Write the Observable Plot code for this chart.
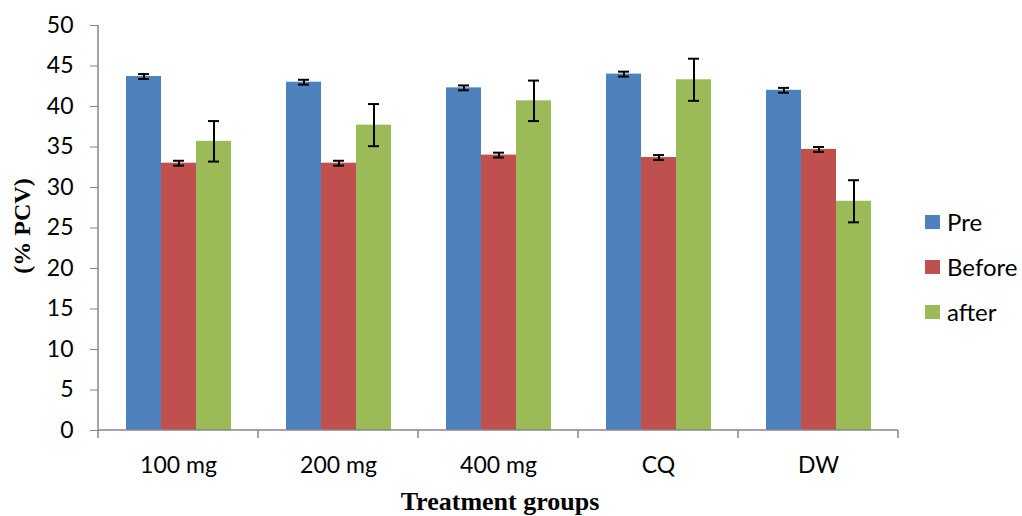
<!DOCTYPE html>
<html>
<head>
<meta charset="utf-8">
<script src="https://cdn.jsdelivr.net/npm/d3@7"></script>
<script src="https://cdn.jsdelivr.net/npm/@observablehq/plot@0.6"></script>
<style>
  html, body { margin: 0; padding: 0; background: #fff; }
  #wrap { position: relative; width: 1022px; height: 516px; font-family: Lato, "Open Sans", sans-serif; }
  .ttl { position: absolute; font-family: "Liberation Serif", "DejaVu Serif", serif; font-weight: bold; color: #000; white-space: nowrap; }
  #legend { position: absolute; left: 925px; top: 199px; font-size: 24px; color: #000; }
  #legend .item { display: flex; align-items: center; height: 45px; }
  #legend .sw { width: 15px; height: 14px; margin-right: 7px; }
</style>
</head>
<body>
<div id="wrap"></div>
<script>
const groups = ["100 mg", "200 mg", "400 mg", "CQ", "DW"];
const series = ["Pre", "Before", "after"];
const colors = ["#4F81BD", "#C0504D", "#9BBB59"];
const preValues = [43.7, 43.0, 42.3, 44.0, 42.0];
const preErrors = [0.3, 0.3, 0.3, 0.3, 0.3];
const beforeValues = [33.0, 33.0, 34.0, 33.7, 34.7];
const beforeErrors = [0.3, 0.3, 0.3, 0.3, 0.3];
const afterValues = [35.7, 37.7, 40.7, 43.3, 28.3];
const afterErrors = [2.5, 2.6, 2.5, 2.6, 2.6];
const yTicks = [0, 5, 10, 15, 20, 25, 30, 35, 40, 45, 50];

const valueSets = [preValues, beforeValues, afterValues];
const errorSets = [preErrors, beforeErrors, afterErrors];
const data = [];
groups.forEach((g, i) => {
  series.forEach((s, k) => {
    data.push({group: g, series: s, value: valueSets[k][i], err: errorSets[k][i]});
  });
});

const chart = Plot.plot({
  width: 1022,
  height: 516,
  marginLeft: 96,
  marginRight: 122,
  marginTop: 25,
  marginBottom: 86,
  style: {fontFamily: "Lato, 'Open Sans', sans-serif", fontSize: "23px", color: "#000", background: "transparent", overflow: "visible"},
  fx: {domain: groups, padding: 0, label: null},
  x: {domain: series, paddingInner: 0, paddingOuter: 0.733, axis: null},
  y: {domain: [0, 50], label: null},
  color: {domain: series, range: colors},
  marks: [
    Plot.barY(data, {fx: "group", x: "series", y: "value", fill: "series"}),
    Plot.ruleX(data, {fx: "group", x: "series", y1: d => d.value - d.err, y2: d => d.value + d.err, stroke: "#000", strokeWidth: 2}),
    Plot.tickY(data, {fx: "group", x: "series", y: d => d.value - d.err, stroke: "#000", strokeWidth: 2, insetLeft: 12, insetRight: 12}),
    Plot.tickY(data, {fx: "group", x: "series", y: d => d.value + d.err, stroke: "#000", strokeWidth: 2, insetLeft: 12, insetRight: 12}),
    Plot.axisY({ticks: yTicks, tickSize: 8, tickPadding: 17, stroke: "#868686", fill: "#000", label: null}),
    Plot.axisFx({anchor: "bottom", tickSize: 0, tickPadding: 26, fill: "#000", label: null})
  ]
});

// axis lines and category boundary ticks drawn from the chart's own scales
const svg = d3.select(chart);
const fx = chart.scale("fx");
const ys = chart.scale("y");
const y0 = ys.apply(0), y50 = ys.apply(50);
const left = fx.apply(groups[0]);
const right = fx.apply(groups[groups.length - 1]) + fx.bandwidth;
const g = svg.append("g").attr("stroke", "#868686").attr("stroke-width", 1.5);
g.append("line").attr("x1", left).attr("x2", left).attr("y1", y50).attr("y2", y0);
g.append("line").attr("x1", left).attr("x2", right).attr("y1", y0).attr("y2", y0);
const bounds = groups.map(d => fx.apply(d)).concat([right]);
bounds.forEach(b => {
  g.append("line").attr("x1", b).attr("x2", b).attr("y1", y0).attr("y2", y0 + 8);
});

const wrap = document.getElementById("wrap");
wrap.appendChild(chart);
chart.style.position = "absolute";
chart.style.left = "0px";
chart.style.top = "0px";

const ylab = document.createElement("div");
ylab.className = "ttl";
ylab.textContent = "(% PCV)";
ylab.style.fontSize = "24px";
ylab.style.left = "22px";
ylab.style.top = "226px";
ylab.style.transform = "translate(-50%, -50%) rotate(-90deg)";
wrap.appendChild(ylab);

const xlab = document.createElement("div");
xlab.className = "ttl";
xlab.textContent = "Treatment groups";
xlab.style.fontSize = "26px";
xlab.style.left = "500px";
xlab.style.top = "502px";
xlab.style.transform = "translate(-50%, -50%)";
wrap.appendChild(xlab);

const legend = document.createElement("div");
legend.id = "legend";
series.forEach((s, k) => {
  const item = document.createElement("div");
  item.className = "item";
  const sw = document.createElement("div");
  sw.className = "sw";
  sw.style.background = colors[k];
  const t = document.createElement("span");
  t.textContent = s;
  item.appendChild(sw);
  item.appendChild(t);
  legend.appendChild(item);
});
wrap.appendChild(legend);
</script>
</body>
</html>
